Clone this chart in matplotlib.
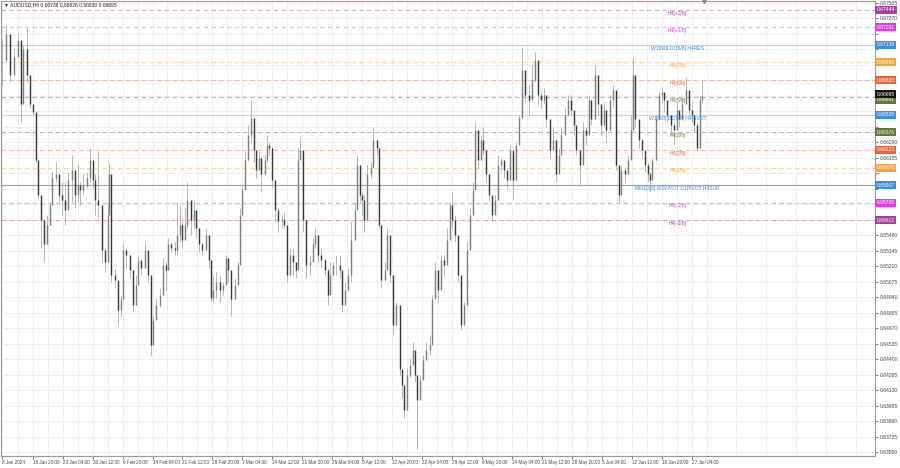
import numpy as np
import matplotlib
matplotlib.use('Agg')
import matplotlib.pyplot as plt
from matplotlib.transforms import blended_transform_factory

plt.rcParams['font.family'] = ['Liberation Sans', 'DejaVu Sans']

SYMBOL = 'AUDUSD,H4'
LAST_OHLC = [0.66738, 0.66826, 0.66630, 0.66695]

# sampled candles, x = H4 bar number since 8 Jan 2024
bar = [0, 4, 9, 13, 17, 20, 23, 27, 30, 33, 36, 39, 42, 45, 48, 51, 54, 58, 61, 64, 68, 71, 75, 78, 81, 84, 87,
       91, 94, 97, 100, 103, 107, 110, 113, 115, 117, 121, 124, 127, 130, 133, 137, 140, 143, 146, 149, 153,
       156, 159, 162, 165, 169, 172, 175, 178, 181, 185,
       187, 190, 193, 196, 198, 202, 205, 208, 211, 214, 218, 221, 223, 226, 229, 233, 236, 239, 242, 245, 249,
       252, 254, 257, 260, 263, 266, 269, 272, 275, 277, 281, 283, 286, 289, 292, 295, 299, 302, 305, 308, 311,
       314, 317, 319, 322, 325, 329, 332, 335, 338, 341, 345, 348, 351, 354, 357, 361, 364, 367, 370,
       373, 377, 380, 383, 385, 387, 390, 394, 397, 401, 403, 405, 409, 412, 415, 418, 421, 425, 428, 430, 433,
       436, 439, 442, 444, 447, 450, 453, 457, 460, 463, 466, 469, 473, 476, 479, 481, 484, 487, 491, 494, 497,
       500, 503, 506, 509, 512, 514, 517, 521, 524, 527, 530, 533, 537, 540, 543, 546, 549, 553, 556, 559,
       563, 566, 570, 573, 576, 579, 582, 586, 589, 592, 595, 598, 602, 605, 608, 611, 614, 618, 621, 624, 627,
       630, 634, 637, 640, 643, 646, 650, 653, 656, 659, 662, 666, 669, 672, 674, 677, 681, 684, 687, 690, 693,
       695, 699, 702, 705, 708, 711, 715, 718, 721, 724, 727, 731, 734, 737, 740, 743, 746, 748]

high = [0.6718, 0.6731, 0.6708, 0.6711, 0.6724, 0.6692, 0.6714, 0.6729, 0.6682, 0.6662, 0.6633, 0.6594, 0.6566,
        0.6548, 0.6566, 0.6577, 0.6603, 0.6612, 0.6601, 0.6594, 0.6594, 0.6603, 0.6618, 0.6594, 0.6609, 0.6594,
        0.6601, 0.6603, 0.6624, 0.6609, 0.6601, 0.6621, 0.6572, 0.6537, 0.6577, 0.6611, 0.6589, 0.6519, 0.6502,
        0.6496, 0.6540, 0.6537, 0.6531, 0.6496, 0.6513, 0.6531, 0.6525, 0.6542, 0.6528, 0.6478, 0.6478, 0.6493,
        0.6502, 0.6528, 0.6525, 0.6546, 0.6542, 0.6542,
        0.6577, 0.6574, 0.6560, 0.6572, 0.6594, 0.6572, 0.6577, 0.6563, 0.6554, 0.6542, 0.6554, 0.6542, 0.6519,
        0.6513, 0.6516, 0.6513, 0.6507, 0.6531, 0.6525, 0.6507, 0.6511, 0.6525, 0.6572, 0.6592, 0.6621, 0.6644,
        0.6666, 0.6627, 0.6618, 0.6621, 0.6609, 0.6618, 0.6635, 0.6629, 0.6624, 0.6583, 0.6572, 0.6566, 0.6568,
        0.6554, 0.6537, 0.6537, 0.6525, 0.6624, 0.6634, 0.6607, 0.6537, 0.6531, 0.6546, 0.6554, 0.6542, 0.6537,
        0.6528, 0.6519, 0.6525, 0.6525, 0.6531, 0.6531, 0.6502, 0.6507, 0.6519,
        0.6560, 0.6577, 0.6618, 0.6594, 0.6586, 0.6583, 0.6609, 0.6612, 0.6642, 0.6629, 0.6618, 0.6537, 0.6525,
        0.6554, 0.6537, 0.6490, 0.6490, 0.6464, 0.6426, 0.6415, 0.6432, 0.6441, 0.6455, 0.6437, 0.6420, 0.6426,
        0.6444, 0.6455, 0.6461, 0.6496, 0.6525, 0.6507, 0.6531, 0.6531, 0.6554, 0.6577, 0.6586, 0.6566, 0.6531,
        0.6490, 0.6490, 0.6542, 0.6572, 0.6594, 0.6647, 0.6618, 0.6635, 0.6642, 0.6612, 0.6594, 0.6577, 0.6583,
        0.6618, 0.6615, 0.6609, 0.6601, 0.6627, 0.6607, 0.6629, 0.6653, 0.6712, 0.6682,
        0.6679, 0.6696, 0.6708, 0.6682, 0.6673, 0.6676, 0.6664, 0.6642, 0.6642, 0.6618, 0.6624, 0.6642, 0.6659,
        0.6670, 0.6670, 0.6653, 0.6629, 0.6618, 0.6647, 0.6642, 0.6670, 0.6662, 0.6696, 0.6676, 0.6653, 0.6664,
        0.6655, 0.6670, 0.6679, 0.6668, 0.6589, 0.6609, 0.6607, 0.6618, 0.6653, 0.6703, 0.6668, 0.6642, 0.6633,
        0.6618, 0.6612, 0.6603, 0.6615, 0.6653, 0.6673, 0.6676, 0.6670, 0.6664, 0.6653, 0.6647, 0.6664, 0.6655,
        0.6668, 0.6686, 0.6670, 0.6664, 0.6653, 0.6647, 0.6670, 0.66826]

low = [0.6679, 0.6699, 0.6682, 0.6694, 0.6705, 0.6647, 0.6683, 0.6682, 0.6659, 0.6653, 0.6612, 0.6580, 0.6537,
       0.6525, 0.6542, 0.6560, 0.6586, 0.6594, 0.6577, 0.6566, 0.6557, 0.6577, 0.6577, 0.6572, 0.6577, 0.6574,
       0.6583, 0.6589, 0.6594, 0.6589, 0.6566, 0.6563, 0.6525, 0.6516, 0.6560, 0.6583, 0.6507, 0.6502, 0.6470,
       0.6478, 0.6519, 0.6519, 0.6511, 0.6481, 0.6490, 0.6516, 0.6513, 0.6525, 0.6507, 0.6444, 0.6461, 0.6478,
       0.6485, 0.6507, 0.6499, 0.6531, 0.6533, 0.6531,
       0.6531, 0.6542, 0.6537, 0.6548, 0.6554, 0.6548, 0.6554, 0.6546, 0.6533, 0.6531, 0.6540, 0.6519, 0.6490,
       0.6490, 0.6493, 0.6490, 0.6496, 0.6519, 0.6507, 0.6478, 0.6496, 0.6513, 0.6542, 0.6577, 0.6603, 0.6618,
       0.6629, 0.6612, 0.6598, 0.6607, 0.6586, 0.6603, 0.6612, 0.6618, 0.6589, 0.6560, 0.6551, 0.6554, 0.6554,
       0.6507, 0.6519, 0.6513, 0.6511, 0.6537, 0.6618, 0.6551, 0.6511, 0.6513, 0.6531, 0.6537, 0.6525, 0.6519,
       0.6513, 0.6487, 0.6507, 0.6513, 0.6513, 0.6511, 0.6481, 0.6490, 0.6499,
       0.6507, 0.6560, 0.6589, 0.6577, 0.6566, 0.6551, 0.6589, 0.6598, 0.6612, 0.6618, 0.6554, 0.6502, 0.6511,
       0.6537, 0.6507, 0.6461, 0.6478, 0.6426, 0.6406, 0.6389, 0.6415, 0.6424, 0.6444, 0.6420, 0.6362, 0.6415,
       0.6426, 0.6441, 0.6444, 0.6478, 0.6502, 0.6490, 0.6502, 0.6513, 0.6531, 0.6554, 0.6554, 0.6542, 0.6507,
       0.6465, 0.6478, 0.6513, 0.6554, 0.6577, 0.6618, 0.6607, 0.6618, 0.6618, 0.6594, 0.6577, 0.6560, 0.6568,
       0.6601, 0.6603, 0.6598, 0.6589, 0.6612, 0.6580, 0.6612, 0.6638, 0.6682, 0.6664,
       0.6653, 0.6668, 0.6682, 0.6662, 0.6659, 0.6662, 0.6642, 0.6615, 0.6624, 0.6594, 0.6607, 0.6624, 0.6642,
       0.6655, 0.6653, 0.6635, 0.6618, 0.6592, 0.6624, 0.6627, 0.6653, 0.6644, 0.6676, 0.6653, 0.6635, 0.6647,
       0.6629, 0.6655, 0.6659, 0.6605, 0.6576, 0.6589, 0.6594, 0.6601, 0.6618, 0.6668, 0.6642, 0.6624, 0.6615,
       0.6603, 0.6594, 0.6586, 0.6603, 0.6629, 0.6659, 0.6664, 0.6655, 0.6647, 0.6635, 0.6627, 0.6644, 0.6642,
       0.6650, 0.6664, 0.6653, 0.6647, 0.6638, 0.6621, 0.6653, 0.66630]

close = [0.6701, 0.6723, 0.6688, 0.6703, 0.6718, 0.6662, 0.6710, 0.6688, 0.6662, 0.6655, 0.6614, 0.6583, 0.6561,
         0.6540, 0.6557, 0.6574, 0.6598, 0.6601, 0.6583, 0.6579, 0.6570, 0.6596, 0.6605, 0.6583, 0.6592, 0.6587,
         0.6592, 0.6598, 0.6614, 0.6596, 0.6579, 0.6574, 0.6535, 0.6525, 0.6566, 0.6601, 0.6513, 0.6509, 0.6483,
         0.6492, 0.6535, 0.6531, 0.6518, 0.6487, 0.6505, 0.6526, 0.6519, 0.6535, 0.6513, 0.6452, 0.6474, 0.6487,
         0.6496, 0.6522, 0.6518, 0.6540, 0.6537, 0.6535,
         0.6548, 0.6557, 0.6544, 0.6557, 0.6579, 0.6561, 0.6570, 0.6554, 0.6540, 0.6535, 0.6548, 0.6526, 0.6493,
         0.6500, 0.6507, 0.6500, 0.6505, 0.6528, 0.6518, 0.6492, 0.6505, 0.6522, 0.6566, 0.6587, 0.6614, 0.6635,
         0.6650, 0.6622, 0.6605, 0.6615, 0.6601, 0.6614, 0.6627, 0.6624, 0.6596, 0.6570, 0.6560, 0.6561, 0.6557,
         0.6513, 0.6531, 0.6525, 0.6518, 0.6614, 0.6622, 0.6561, 0.6522, 0.6525, 0.6540, 0.6548, 0.6531, 0.6526,
         0.6518, 0.6496, 0.6513, 0.6522, 0.6522, 0.6518, 0.6487, 0.6500, 0.6513,
         0.6544, 0.6570, 0.6609, 0.6583, 0.6579, 0.6561, 0.6601, 0.6607, 0.6631, 0.6624, 0.6557, 0.6509, 0.6518,
         0.6548, 0.6513, 0.6470, 0.6487, 0.6431, 0.6417, 0.6396, 0.6426, 0.6435, 0.6448, 0.6426, 0.6404, 0.6422,
         0.6439, 0.6448, 0.6452, 0.6492, 0.6518, 0.6500, 0.6526, 0.6522, 0.6544, 0.6574, 0.6561, 0.6548, 0.6513,
         0.6470, 0.6487, 0.6535, 0.6566, 0.6587, 0.6640, 0.6614, 0.6631, 0.6622, 0.6601, 0.6583, 0.6566, 0.6579,
         0.6609, 0.6614, 0.6605, 0.6596, 0.6622, 0.6596, 0.6627, 0.6650, 0.6692, 0.6670,
         0.6666, 0.6683, 0.6701, 0.6670, 0.6666, 0.6670, 0.6649, 0.6622, 0.6631, 0.6601, 0.6618, 0.6635, 0.6653,
         0.6666, 0.6657, 0.6644, 0.6622, 0.6609, 0.6640, 0.6635, 0.6666, 0.6649, 0.6688, 0.6662, 0.6644, 0.6657,
         0.6640, 0.6666, 0.6675, 0.6609, 0.6583, 0.6605, 0.6601, 0.6614, 0.6640, 0.6688, 0.6649, 0.6631, 0.6622,
         0.6609, 0.6601, 0.6596, 0.6614, 0.6649, 0.6670, 0.6673, 0.6666, 0.6653, 0.6644, 0.6640, 0.6657, 0.6649,
         0.6662, 0.6675, 0.6657, 0.6653, 0.6644, 0.6624, 0.6666, 0.66695]

time_labels = ['8 Jan 2024', '15 Jan 20:00', '23 Jan 04:00', '30 Jan 12:00', '6 Feb 20:00', '14 Feb 04:00',
               '21 Feb 12:00', '28 Feb 20:00', '7 Mar 04:00', '14 Mar 12:00', '21 Mar 20:00', '29 Mar 04:00',
               '5 Apr 12:00', '12 Apr 20:00', '22 Apr 04:00', '29 Apr 12:00', '6 May 20:00', '14 May 04:00',
               '21 May 12:00', '28 May 20:00', '5 Jun 04:00', '12 Jun 12:00', '19 Jun 20:00', '27 Jun 04:00']
time_label_bars = [0] + [32 * k + 1 for k in range(1, 24)]

level_names = ['H4[+2/8]', 'H4[+1/8]', 'W1[6/8] D1[6/8] H4RES', 'H4[7/8]', 'H4[6/8]', 'H4[5/8]',
               'W1[5/8] D1[5/8] H4PIVOT', 'H4[3/8]', 'H4[2/8]', 'H4[1/8]', 'MN1[3/8] W1PIVOT D1PIVOT H4SUP',
               'H4[-1/8]', 'H4[-2/8]']
level_values = [0.67444, 0.67291, 0.67139, 0.66986, 0.66833, 0.66681, 0.66528, 0.66376, 0.66223, 0.66070,
                0.65917, 0.65765, 0.65612]

PURPLE = '#a8409a'
MAGENTA = '#df3ee6'
BLUE = '#3e8ddc'
LIGHT_ORANGE = '#f3a43e'
ORANGE = '#e6643a'
OLIVE = '#62783a'
LEVEL_COLORS = [PURPLE, MAGENTA, BLUE, LIGHT_ORANGE, ORANGE, OLIVE, BLUE, OLIVE, ORANGE, LIGHT_ORANGE, BLUE,
                MAGENTA, PURPLE]
LINE_COLORS = ['#d8a8cf', '#e9b0ee', '#b9d3ec', '#f3d3a8', '#eebba6', '#b9b9a6', '#c4d6e8', '#b9b9a6',
               '#eebba6', '#f3d3a8', '#6fa8e2', '#e9b0ee', '#d8a8cf']
FONT = 3.6
X_FONT = 3.3
BAR_LIMITS = (-1, 933)
PRICE_LIMITS = (0.63555, 0.67522)
BID_NUDGE = 0.00015     # bid box and 5/8 box sit almost on top of each other
LEVEL_NUDGE = -0.00020


def draw_candles(ax):
    x = np.array(bar)
    c = np.array(close)
    o = np.r_[c[0], c[:-1]]
    ax.vlines(x, low, high, color='#ababab', lw=0.6, zorder=3)
    down = c < o
    ax.vlines(x[down], c[down], o[down], color='#353535', lw=1.0, zorder=4)
    ax.vlines(x[~down], o[~down], c[~down], color='#7c7c7c', lw=1.0, zorder=4)


def draw_levels(ax):
    right = blended_transform_factory(ax.transAxes, ax.transData)
    for name, val, col, lcol in zip(level_names, level_values, LEVEL_COLORS, LINE_COLORS):
        ls = '-' if col == BLUE else (0, (4, 3))
        ax.axhline(val, color=lcol, lw=0.8, ls=ls, zorder=2)
        ax.annotate(name, (722, val), xytext=(0, -0.6), textcoords='offset points', ha='center', va='top',
                    fontsize=FONT, color=col, zorder=5)
        box_y = val + LEVEL_NUDGE if abs(val - LAST_OHLC[3]) < 0.0003 else val
        ax.text(1.002, box_y, f'{val:.5f}', transform=right, ha='left', va='center', fontsize=FONT,
                color='white', clip_on=False, zorder=6,
                bbox=dict(boxstyle='square,pad=0.3', fc=col, ec='none'))
    # current bid
    ax.text(1.002, LAST_OHLC[3] + BID_NUDGE, f'{LAST_OHLC[3]:.5f}', transform=right, ha='left', va='center',
            fontsize=FONT, color='white', clip_on=False, zorder=7,
            bbox=dict(boxstyle='square,pad=0.3', fc='#111111', ec='none'))


fig = plt.figure(figsize=(9, 4.68), dpi=100)
ax = fig.add_axes([0.001, 0.0256, 0.9712, 0.9723])
ax.set_xlim(*BAR_LIMITS)
ax.set_ylim(*PRICE_LIMITS)

# price scale; labels under the coloured boxes are hidden like the terminal does
price_ticks = np.round(0.63590 + 0.00135 * np.arange(30), 5)
boxed = level_values + [LAST_OHLC[3]]
ax.set_yticks(price_ticks)
ax.set_yticklabels(['' if min(abs(p - b) for b in boxed) < 0.0006 else f'{p:.5f}' for p in price_ticks])
ax.yaxis.tick_right()
ax.set_xticks(time_label_bars)
ax.set_xticklabels(time_labels, ha='left')
ax.set_xticks(np.arange(17, 933, 32), minor=True)
ax.tick_params(axis='y', labelsize=FONT, length=2, width=0.5, pad=1.2, colors='#444444')
ax.tick_params(axis='x', labelsize=X_FONT, length=2, width=0.5, pad=1.2, colors='#444444')
ax.tick_params(axis='x', which='minor', length=0)
ax.grid(True, which='both', color='#ececec', lw=0.6, zorder=0)
for s in ax.spines.values():
    s.set_color('#9a9a9a')
    s.set_linewidth(0.8)

draw_levels(ax)
draw_candles(ax)

ax.text(0.003, 0.997, '\u25bc ' + SYMBOL + ' ' + ' '.join(f'{v:.5f}' for v in LAST_OHLC),
        transform=ax.transAxes, ha='left', va='top', fontsize=FONT, color='#222222', zorder=8)
ax.plot([750], [PRICE_LIMITS[1]], marker='v', ms=3, color='#8a8a8a', clip_on=False, zorder=8)

fig.savefig('out.png', dpi=100)
